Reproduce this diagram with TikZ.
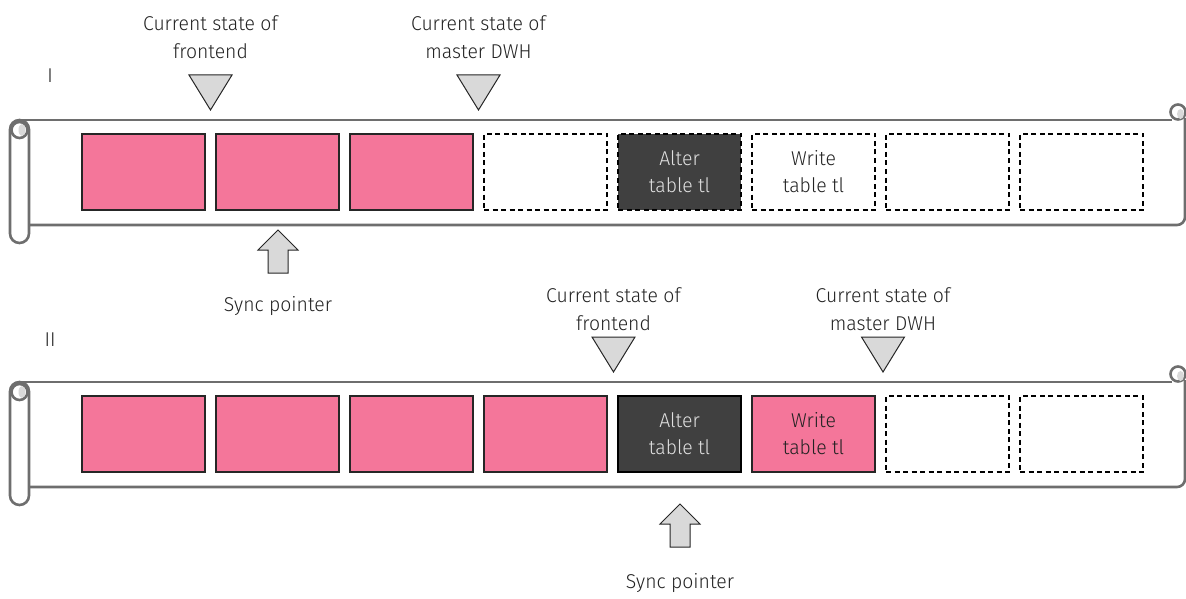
\documentclass[tikz,border=0pt]{standalone}
\usepackage{fontspec}
\setmainfont{Fira Sans}[UprightFont=* Light, FakeStretch=0.97]
\definecolor{pinkc}{HTML}{F4769A}
\definecolor{darkc}{HTML}{404040}
\definecolor{scrollc}{HTML}{6E6E6E}
\definecolor{trifill}{HTML}{D9D9D9}
\definecolor{txt}{HTML}{222222}
\tikzset{
  scrollline/.style={draw=scrollc, line width=2.6pt},
  boxbase/.style={minimum width=123pt, minimum height=76pt, inner sep=0pt, align=center,
     font=\fontsize{20}{27}\selectfont, line width=1.2pt},
  pinkbox/.style={boxbase, fill=pinkc, draw=black!85, text=txt},
  emptybox/.style={boxbase, draw=black, dash pattern=on 5pt off 3.5pt},
  darkbox/.style={boxbase, fill=darkc, draw=black, text=white!88!black},
  lbl/.style={align=center, font=\fontsize{20}{28}\selectfont, text=txt, inner sep=0pt},
  marker/.style={draw=black!85, fill=trifill, line width=1pt, line join=miter},
}
\newcommand\scrollshape{%
  % body
  \draw[scrollline] (20,120) -- (1172,120);
  \draw[scrollline] (29,225) -- (1177,225) arc[start angle=90, end angle=0, radius=8] -- (1185,118);
  \draw[scrollline, fill=white] (1178,112) circle (7.5);
  \fill[trifill] (1180.5,114) ellipse (3.5 and 5);
  % left tube
  \draw[scrollline, fill=white, rounded corners=9.5pt] (10,120) rectangle (29,243);
  \draw[scrollline, fill=white] (19.5,130) circle (8);
  \fill[trifill] (22,130) ellipse (3.5 and 6);
}
\begin{document}
\begin{tikzpicture}[x=1pt, y=-1pt]
\useasboundingbox (0,0) rectangle (1186,599);

% ---------- I ----------
\node[lbl] at (50,76) {I};
\scrollshape
\node[pinkbox]  (a1) at (143.5,172) {};
\node[pinkbox]  (a2) at (277.5,172) {};
\node[pinkbox]  (a3) at (411.5,172) {};
\node[emptybox] (a4) at (545.5,172) {};
\node[darkbox, dash pattern=on 5pt off 3.5pt] (a5) at (679.5,172) {Alter\\table tl};
\node[emptybox, text=txt] (a6) at (813.5,172) {Write\\table tl};
\node[emptybox] (a7) at (947.5,172) {};
\node[emptybox] (a8) at (1081.5,172) {};

\node[lbl] (fa) at (210.5,37) {Current state of\\frontend};
\node[lbl] (ma) at (478.5,37) {Current state of\\master DWH};
\draw[marker] (189,75) -- (232,75) -- (210.5,110) -- cycle;
\draw[marker] (457,75) -- (500,75) -- (478.5,110) -- cycle;

\draw[marker] (278,230) -- (298,250) -- (288,250) -- (288,273) -- (268,273) -- (268,250) -- (258,250) -- cycle;
\node[lbl] (sa) at (278,306) {Sync pointer};

% ---------- II ----------
\node[lbl] at (50,340) {II};
\begin{scope}[shift={(0,262)}]
\scrollshape
\end{scope}
\node[pinkbox]  (b1) at (143.5,434) {};
\node[pinkbox]  (b2) at (277.5,434) {};
\node[pinkbox]  (b3) at (411.5,434) {};
\node[pinkbox]  (b4) at (545.5,434) {};
\node[darkbox]  (b5) at (679.5,434) {Alter\\table tl};
\node[pinkbox]  (b6) at (813.5,434) {Write\\table tl};
\node[emptybox] (b7) at (947.5,434) {};
\node[emptybox] (b8) at (1081.5,434) {};

\node[lbl] (fb) at (613.5,309) {Current state of\\frontend};
\node[lbl] (mb) at (883,309) {Current state of\\master DWH};
\draw[marker] (592,337) -- (635,337) -- (613.5,372) -- cycle;
\draw[marker] (861.5,337) -- (904.5,337) -- (883,372) -- cycle;

\draw[marker] (680,504) -- (700,524) -- (690,524) -- (690,547) -- (670,547) -- (670,524) -- (660,524) -- cycle;
\node[lbl] (sb) at (680,583) {Sync pointer};
\end{tikzpicture}
\end{document}
